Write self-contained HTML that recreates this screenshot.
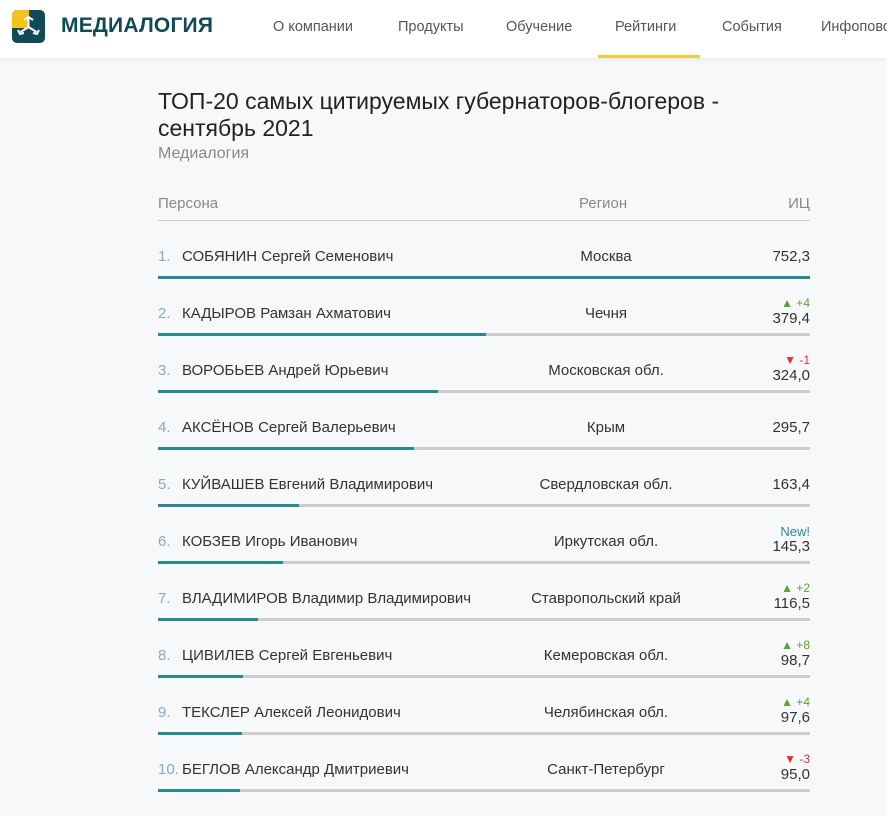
<!DOCTYPE html>
<html><head><meta charset="utf-8"><style>
*{margin:0;padding:0;box-sizing:border-box}
body{width:887px;height:816px;overflow:hidden;background:#f7f8f9;font-family:"Liberation Sans",sans-serif;position:relative;color:#333}
.hdr{position:absolute;left:0;top:0;width:887px;height:58px;background:#fff;box-shadow:0 1px 4px rgba(0,0,0,.08)}
.a{position:absolute;white-space:nowrap}
.nav{font-size:14.5px;color:#555;top:19px}
.t{font-size:15px;line-height:17px}
.bar{position:absolute;left:158px;width:652px;height:3px;background:#ccc}
.bar i{display:block;height:3px;background:#2a8a92}
.up{color:#5aa332;font-size:12px}
.dn{color:#d33;font-size:12px}
</style></head><body>
<div class="hdr">
 <svg class="a" style="left:12px;top:10px" width="33" height="33" viewBox="0 0 33 33">
  <rect width="33" height="33" rx="5" fill="#114a57"/>
  <path d="M0 5a5 5 0 0 1 5-5h12v18H0z" fill="#f2c318"/>
  <path d="M16.5 8v9M16.5 17l-8 5M16.5 17l8 5M12 10l4.5-3 4.5 3M6 20l2 4 4-1M27 20l-2 4-4-1" stroke="#fff" stroke-width="2" fill="none"/>
 </svg>
 <div class="a" style="left:61px;top:14px;font-size:21px;font-weight:bold;color:#114a57;letter-spacing:.2px">МЕДИАЛОГИЯ</div>
 <div class="a nav" style="left:273px">О компании</div>
 <div class="a nav" style="left:398px">Продукты</div>
 <div class="a nav" style="left:506px">Обучение</div>
 <div class="a nav" style="left:615px">Рейтинги</div>
 <div class="a nav" style="left:722px">События</div>
 <div class="a nav" style="left:821px">Инфоповоды</div>
 <div class="a" style="left:598px;top:55px;width:102px;height:3px;background:#f0cc3a"></div>
</div>
<div class="a" style="left:158px;top:88px;font-size:23px;line-height:27px;color:#222">ТОП-20 самых цитируемых губернаторов-блогеров -<br>сентябрь 2021</div>
<div class="a" style="left:158px;top:145px;font-size:16px;color:#888">Медиалогия</div>
<div class="a" style="left:158px;top:195px;font-size:15px;color:#888">Персона</div>
<div class="a" style="left:579px;top:195px;font-size:15px;color:#888">Регион</div>
<div class="a" style="right:77px;top:195px;font-size:15px;color:#888">ИЦ</div>
<div class="a" style="left:158px;top:220px;width:652px;height:1px;background:#ccc"></div>
<div id="rows"></div>
<script>
var d=[["СОБЯНИН Сергей Семенович","Москва","752,3","",810],
["КАДЫРОВ Рамзан Ахматович","Чечня","379,4","u+4",486],
["ВОРОБЬЕВ Андрей Юрьевич","Московская обл.","324,0","d-1",438],
["АКСЁНОВ Сергей Валерьевич","Крым","295,7","",414],
["КУЙВАШЕВ Евгений Владимирович","Свердловская обл.","163,4","",299],
["КОБЗЕВ Игорь Иванович","Иркутская обл.","145,3","nNew!",283],
["ВЛАДИМИРОВ Владимир Владимирович","Ставропольский край","116,5","u+2",258],
["ЦИВИЛЕВ Сергей Евгеньевич","Кемеровская обл.","98,7","u+8",243],
["ТЕКСЛЕР Алексей Леонидович","Челябинская обл.","97,6","u+4",242],
["БЕГЛОВ Александр Дмитриевич","Санкт-Петербург","95,0","d-3",240]];
var h="";
d.forEach(function(r,i){var y=248+57*i;
h+='<div class="a t" style="left:158px;top:'+y+'px;color:#8ab">'+(i+1)+'.</div>';
h+='<div class="a t" style="left:182px;top:'+y+'px">'+r[0]+'</div>';
h+='<div class="a t" style="left:506px;width:200px;text-align:center;top:'+y+'px">'+r[1]+'</div>';
var vy=r[3]?y+5:y;
h+='<div class="a t" style="right:77px;top:'+vy+'px">'+r[2]+'</div>';
if(r[3]){var c=r[3][0],s=r[3].slice(1);
 if(c=="u")h+='<div class="a up" style="right:77px;top:'+(y-9)+'px">▲ '+s+'</div>';
 if(c=="d")h+='<div class="a dn" style="right:77px;top:'+(y-9)+'px">▼ '+s+'</div>';
 if(c=="n")h+='<div class="a" style="right:77px;top:'+(y-9)+'px;color:#2a8a92;font-size:13px">'+s+'</div>';}
h+='<div class="bar" style="top:'+(276+57*i)+'px"><i style="width:'+(r[4]-158)+'px"></i></div>';});
document.getElementById("rows").innerHTML=h;
</script>
</body></html>
